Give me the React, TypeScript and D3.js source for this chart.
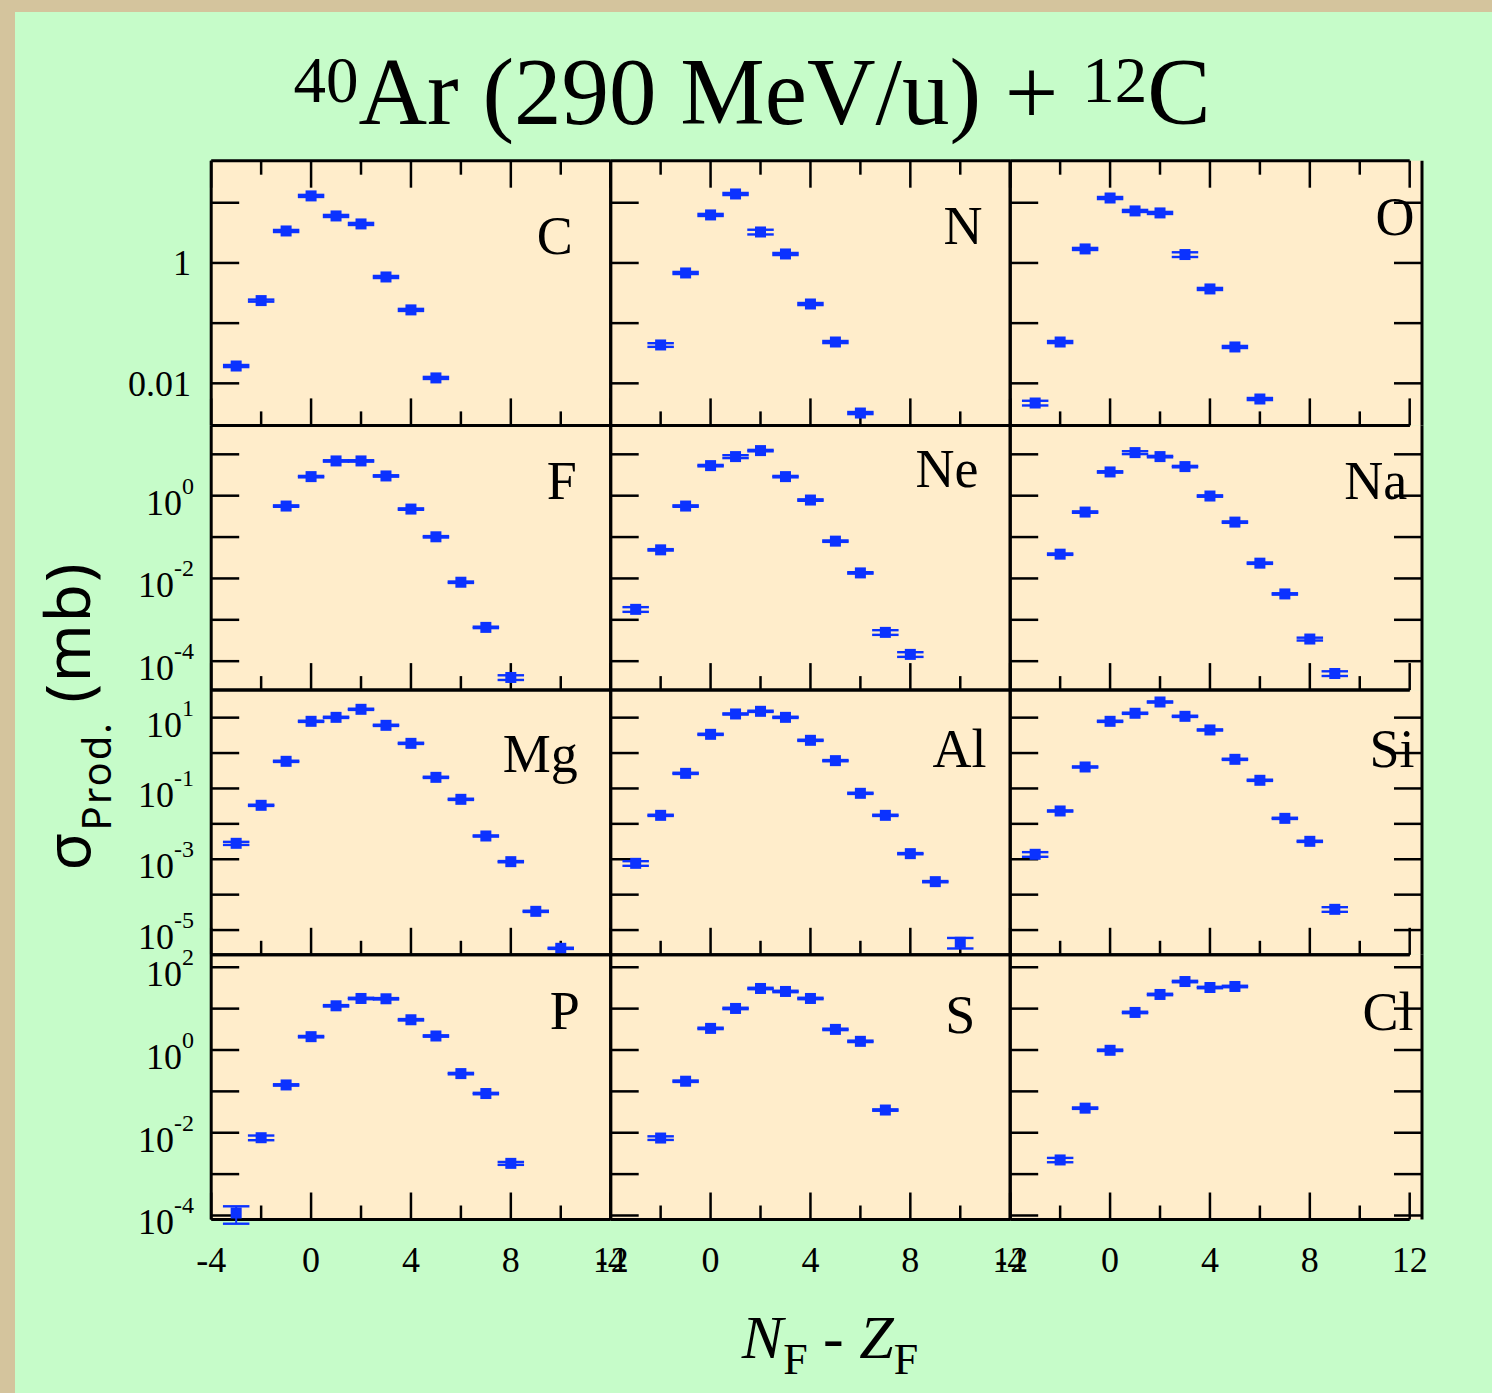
import React from "react";
import * as d3 from "d3";

// ---------- data ----------
const elements = ["C", "N", "O", "F", "Ne", "Na", "Mg", "Al", "Si", "P", "S", "Cl"];
const firstNZ = [-3, -2, -3, -1, -3, -2, -3, -3, -3, -3, -2, -2];

const C_sigma = [0.0194, 0.237, 3.4, 13.0, 6.04, 4.45, 0.585, 0.166, 0.0123];
const N_sigma = [0.0434, 0.682, 6.28, 14.0, 3.27, 1.41, 0.208, 0.0486, 0.00321];
const O_sigma = [0.00471, 0.0486, 1.71, 12.0, 7.32, 6.78, 1.38, 0.37, 0.0402, 0.00549];
const F_sigma = [0.562, 2.89, 6.92, 6.92, 3.0, 0.475, 0.1015, 0.0081, 6.56e-4, 4.04e-5];
const Ne_sigma = [1.79e-3, 0.0491, 0.562, 5.33, 8.81, 12.3, 2.89, 0.785, 0.0797, 0.0136, 4.97e-4, 1.46e-4];
const Na_sigma = [0.0386, 0.402, 3.75, 11.0, 8.81, 5.05, 0.982, 0.23, 0.0234, 4.22e-3, 3.43e-4, 5.04e-5];
const Mg_sigma = [2.82e-3, 0.0334, 0.584, 7.88, 10.2, 17.2, 6.07, 1.88, 0.206, 0.0493, 4.54e-3, 8.55e-4, 3.38e-5, 3.05e-6];
const Al_sigma = [7.67e-4, 0.0174, 0.267, 3.38, 12.7, 15.1, 10.2, 2.29, 0.61, 0.0729, 0.0174, 1.44e-3, 2.33e-4, 4.5e-6];
const Si_sigma = [1.38e-3, 0.0231, 0.404, 7.88, 13.3, 27.7, 10.9, 4.49, 0.665, 0.17, 0.0143, 3.21e-3, 3.85e-5];
const P_sigma = [1.15e-4, 7.58e-3, 0.143, 2.1, 11.7, 17.6, 17.3, 5.38, 2.18, 0.269, 0.0887, 1.82e-3];
const S_sigma = [7.45e-3, 0.176, 3.33, 10.1, 30.7, 26.0, 17.6, 3.15, 1.62, 0.0354];
const Cl_sigma = [2.2e-3, 0.0393, 0.984, 8.09, 22.0, 45.2, 32.4, 34.3];

// relative errors
const C_err = [0.04, 0.04, 0.04, 0.04, 0.04, 0.04, 0.04, 0.04, 0.04];
const N_err = [0.07, 0.04, 0.04, 0.04, 0.09, 0.04, 0.04, 0.04, 0.04];
const O_err = [0.09, 0.04, 0.04, 0.04, 0.04, 0.04, 0.09, 0.04, 0.04, 0.04];
const F_err = [0.04, 0.04, 0.04, 0.04, 0.04, 0.04, 0.04, 0.04, 0.04, 0.13];
const Ne_err = [0.13, 0.04, 0.04, 0.04, 0.08, 0.04, 0.04, 0.04, 0.04, 0.04, 0.13, 0.13];
const Na_err = [0.04, 0.04, 0.04, 0.08, 0.04, 0.04, 0.04, 0.04, 0.04, 0.04, 0.08, 0.13];
const Mg_err = [0.1, 0.04, 0.04, 0.04, 0.04, 0.04, 0.04, 0.04, 0.04, 0.04, 0.04, 0.04, 0.04, 0.04];
const Al_err = [0.15, 0.04, 0.04, 0.04, 0.04, 0.04, 0.04, 0.04, 0.04, 0.04, 0.04, 0.04, 0.04, 0.33];
const Si_err = [0.15, 0.04, 0.04, 0.04, 0.04, 0.04, 0.04, 0.04, 0.04, 0.04, 0.04, 0.04, 0.15];
const P_err = [0.45, 0.13, 0.04, 0.04, 0.04, 0.04, 0.04, 0.04, 0.04, 0.04, 0.04, 0.08];
const S_err = [0.1, 0.04, 0.04, 0.04, 0.04, 0.04, 0.04, 0.04, 0.04, 0.04];
const Cl_err = [0.12, 0.04, 0.04, 0.04, 0.04, 0.04, 0.04, 0.04];

const sigmas = [C_sigma, N_sigma, O_sigma, F_sigma, Ne_sigma, Na_sigma, Mg_sigma, Al_sigma, Si_sigma, P_sigma, S_sigma, Cl_sigma];
const errors = [C_err, N_err, O_err, F_err, Ne_err, Na_err, Mg_err, Al_err, Si_err, P_err, S_err, Cl_err];

const rowDomains: [number, number][] = [[0.002, 50], [2e-5, 50], [2e-6, 60], [8e-5, 200]];
const rowLabelExps = [[0, -2], [0, -2, -4], [1, -1, -3, -5], [2, 0, -2, -4]];
const rowLabelPlain = [true, false, false, false];
const xDomain: [number, number] = [-4, 12];
const xMajorTicks = [-4, 0, 4, 8, 12];
const xMinorTicks = [-2, 2, 6, 10];

// label placement (layout)
const labelEndNZ = [10.48, 10.89, 12.19, 10.64, 10.73, 11.9, 10.68, 11.05, 12.19, 10.76, 10.6, 12.15];
const labelBaseline = [93, 83, 74, 74, 62, 74, 82, 77, 77, 74, 78, 75];

// ---------- layout ----------
const W = 1492, H = 1393;
const left0 = 211.2, top0 = 160.7, panelW = 399.5, panelH = 264.7;
const col3Extra = 12.3;
const BLUE = "#0b32ff";
const SERIF = "'Liberation Serif', 'Times New Roman', serif";

function decades(lo: number, hi: number) {
  return d3.range(Math.ceil(Math.log10(lo) - 1e-9), Math.floor(Math.log10(hi) + 1e-9) + 1);
}

export default function App() {
  const panels = elements.map((name, i) => {
    const row = Math.floor(i / 3), col = i % 3;
    const x0 = left0 + col * panelW;
    const top = top0 + row * panelH;
    const bottom = top + panelH;
    const x = d3.scaleLinear().domain(xDomain).range([x0, x0 + panelW]);
    const y = d3.scaleLog().domain(rowDomains[row]).range([bottom, top]);
    const rightEdge = col === 2 ? x0 + panelW + col3Extra : x0 + panelW;
    return { name, i, row, col, x0, top, bottom, x, y, rightEdge };
  });

  return (
    <svg width={W} height={H} style={{ position: "absolute", left: 0, top: 0, display: "block" }} fontFamily={SERIF}>
      <rect x={0} y={0} width={W} height={H} fill="#d4c49d" />
      <rect x={15} y={12} width={W - 15} height={H - 12} fill="#c6fcc9" />

      {/* title */}
      <text x={752} y={124} textAnchor="middle" fontSize={95} fill="#000">
        <tspan fontSize={65} dy={-22}>40</tspan>
        <tspan dy={22}>Ar (290 MeV/u) + </tspan>
        <tspan fontSize={65} dy={-22}>12</tspan>
        <tspan dy={22}>C</tspan>
      </text>

      {/* panel fills */}
      {panels.map((p) => (
        <rect key={"f" + p.i} x={p.x0} y={p.top} width={p.rightEdge - p.x0} height={panelH} fill="#ffedcb" />
      ))}

      {panels.map((p) => {
        const yt = decades(rowDomains[p.row][0], rowDomains[p.row][1]);
        const vals = sigmas[p.i];
        const errs = errors[p.i];
        return (
          <g key={"p" + p.i}>
            {/* y ticks left */}
            {yt.map((e) => (
              <line key={"yl" + e} x1={p.x0} x2={p.x0 + 28} y1={p.y(Math.pow(10, e))} y2={p.y(Math.pow(10, e))} stroke="#000" strokeWidth={2.5} />
            ))}
            {p.col === 2 && yt.map((e) => (
              <line key={"yr" + e} x1={p.rightEdge - 28} x2={p.rightEdge} y1={p.y(Math.pow(10, e))} y2={p.y(Math.pow(10, e))} stroke="#000" strokeWidth={2.5} />
            ))}
            {/* x ticks bottom */}
            {xMajorTicks.map((t) => (
              <line key={"xb" + t} x1={p.x(t)} x2={p.x(t)} y1={p.bottom} y2={p.bottom - 27} stroke="#000" strokeWidth={2.5} />
            ))}
            {xMinorTicks.map((t) => (
              <line key={"xbm" + t} x1={p.x(t)} x2={p.x(t)} y1={p.bottom} y2={p.bottom - 14} stroke="#000" strokeWidth={2.5} />
            ))}
            {p.row === 0 && xMajorTicks.map((t) => (
              <line key={"xt" + t} x1={p.x(t)} x2={p.x(t)} y1={p.top} y2={p.top + 27} stroke="#000" strokeWidth={2.5} />
            ))}
            {p.row === 0 && xMinorTicks.map((t) => (
              <line key={"xtm" + t} x1={p.x(t)} x2={p.x(t)} y1={p.top} y2={p.top + 14} stroke="#000" strokeWidth={2.5} />
            ))}
            {/* frame */}
            <line x1={p.x0} x2={p.x(12)} y1={p.top} y2={p.top} stroke="#000" strokeWidth={3} />
            <line x1={p.x0} x2={p.x(12)} y1={p.bottom} y2={p.bottom} stroke="#000" strokeWidth={3} />
            <line x1={p.x0} x2={p.x0} y1={p.top} y2={p.bottom} stroke="#000" strokeWidth={3} />
            <line x1={p.rightEdge} x2={p.rightEdge} y1={p.top} y2={p.bottom} stroke="#000" strokeWidth={3} />

            {/* data */}
            {vals.map((v, j) => {
              const nz = firstNZ[p.i] + j;
              const cx = p.x(nz), cy = p.y(v);
              const e = errs[j];
              const yu = p.y(v * (1 + e)), yl = p.y(v * (1 - e));
              const xl = p.x(nz - 0.53), xr = p.x(nz + 0.53);
              return (
                <g key={"d" + j}>
                  <line x1={cx} x2={cx} y1={yu} y2={yl} stroke={BLUE} strokeWidth={2} />
                  <line x1={xl} x2={xr} y1={yu} y2={yu} stroke={BLUE} strokeWidth={2.4} />
                  <line x1={xl} x2={xr} y1={yl} y2={yl} stroke={BLUE} strokeWidth={2.4} />
                  <rect x={cx - 5.5} y={cy - 5.5} width={11} height={11} fill={BLUE} />
                </g>
              );
            })}

            {/* element label */}
            <text x={p.x(labelEndNZ[p.i])} y={p.top + labelBaseline[p.i]} textAnchor="end" fontSize={54} fill="#000">
              {p.name}
            </text>
          </g>
        );
      })}

      {/* y tick labels */}
      {panels.filter((p) => p.col === 0).map((p) => (
        <g key={"yl" + p.row}>
          {rowLabelExps[p.row].map((e) => {
            const ty = p.y(Math.pow(10, e));
            if (rowLabelPlain[p.row]) {
              return (
                <text key={e} x={191} y={ty + 12.5} textAnchor="end" fontSize={36}>
                  {String(Math.pow(10, e) === 1 ? 1 : +Math.pow(10, e).toPrecision(1))}
                </text>
              );
            }
            return (
              <text key={e} x={194} y={ty + 19} textAnchor="end" fontSize={36}>
                <tspan>10</tspan>
                <tspan fontSize={24} dy={-21}>{String(e)}</tspan>
              </text>
            );
          })}
        </g>
      ))}

      {/* x tick labels */}
      {panels.filter((p) => p.row === 3).map((p) => (
        <g key={"xl" + p.col}>
          {xMajorTicks.map((t) => (
            <text key={t} x={p.x(t)} y={1272} textAnchor="middle" fontSize={36}>
              {String(t)}
            </text>
          ))}
        </g>
      ))}

      {/* x axis title */}
      <text x={830} y={1358} textAnchor="middle" fontSize={62}>
        <tspan fontStyle="italic">N</tspan>
        <tspan fontSize={44} dy={16}>F</tspan>
        <tspan dy={-16}> - </tspan>
        <tspan fontStyle="italic">Z</tspan>
        <tspan fontSize={44} dy={16}>F</tspan>
      </text>

      {/* y axis title */}
      <text transform="translate(90,716) rotate(-90)" textAnchor="middle" fontFamily="'Noto Sans', 'DejaVu Sans', sans-serif" fontSize={62} letterSpacing={2}>
        <tspan>σ</tspan>
        <tspan fontSize={40} dy={21}>Prod.</tspan>
        <tspan dy={-21}> (mb)</tspan>
      </text>
    </svg>
  );
}
